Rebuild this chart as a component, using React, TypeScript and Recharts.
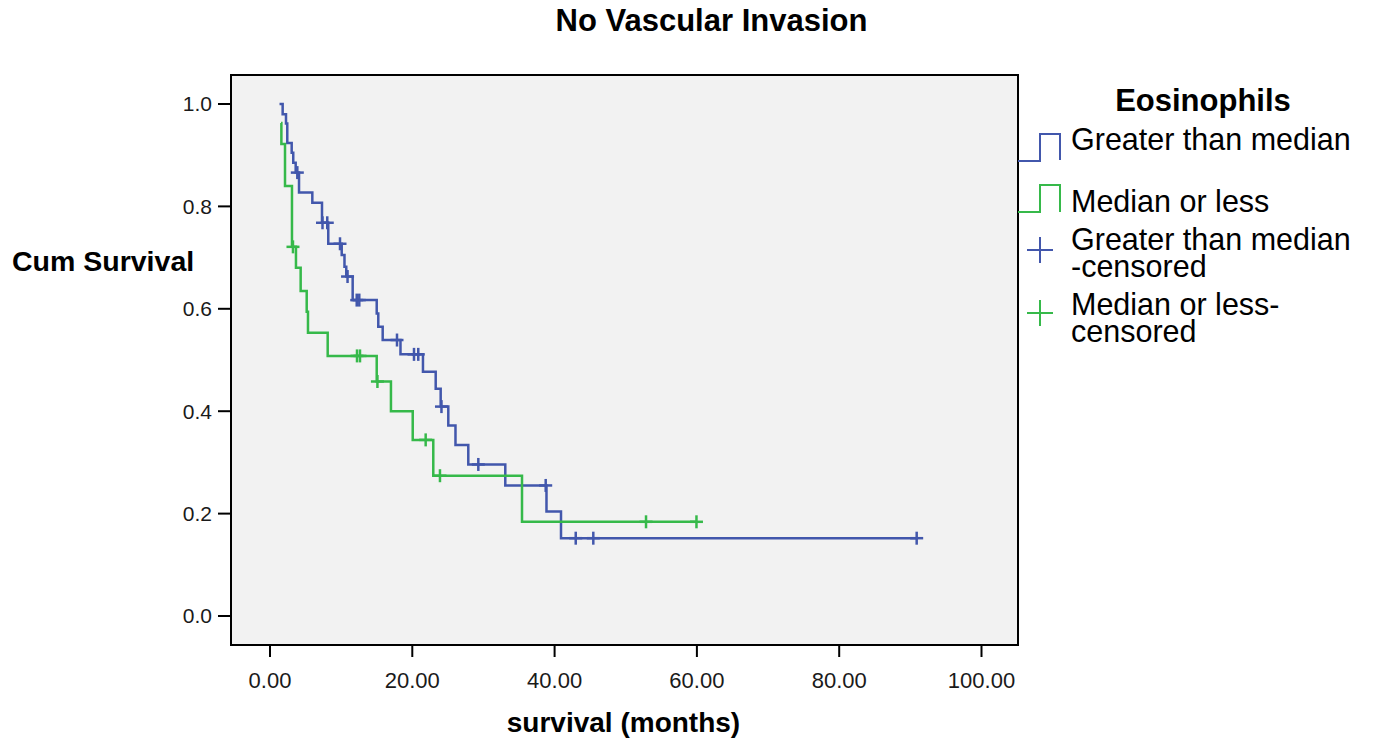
import React from "react";
import {
  ComposedChart,
  Line,
  Scatter,
  XAxis,
  YAxis,
  ReferenceArea,
} from "recharts";

// Kaplan-Meier steps (months, cumulative survival)
const aboveTimes = [1.34, 1.78, 2.25, 2.43, 3.05, 3.27, 3.61, 4.08, 5.95, 7.31, 8.19, 10.08, 10.47, 10.72, 11.62, 15.0, 15.22, 15.84, 18.34, 21.5, 23.29, 23.99, 25.06, 26.07, 27.87, 33.07, 38.86, 40.9];
const aboveSurvival = [1.0, 0.98, 0.962, 0.924, 0.905, 0.885, 0.866, 0.827, 0.807, 0.768, 0.727, 0.705, 0.682, 0.663, 0.617, 0.591, 0.565, 0.539, 0.511, 0.477, 0.444, 0.409, 0.372, 0.334, 0.296, 0.255, 0.204, 0.152];
const aboveCensored = [3.84, 7.38, 8.05, 9.84, 10.9, 12.19, 12.55, 17.85, 20.24, 20.84, 24.1, 29.28, 38.75, 42.97, 45.44, 90.89];

const belowTimes = [1.55, 1.6, 2.11, 3.09, 3.65, 4.31, 5.16, 5.34, 8.11, 15.0, 17.0, 20.06, 22.95, 35.42];
const belowSurvival = [0.963, 0.922, 0.84, 0.721, 0.68, 0.635, 0.594, 0.553, 0.508, 0.458, 0.4, 0.344, 0.274, 0.184];
const belowCensored = [3.23, 12.23, 12.65, 15.1, 21.88, 23.89, 52.85, 59.94];

const xTicks = [0, 20, 40, 60, 80, 100];
const yTicks = [0, 0.2, 0.4, 0.6, 0.8, 1.0];

const BLUE = "#4257ac";
const GREEN = "#36b94a";
const FONT = "'Liberation Sans', Arial, Helvetica, sans-serif";

const X_DOMAIN: [number, number] = [-5.48, 105.13];
const Y_DOMAIN: [number, number] = [-0.0566, 1.0566];

function levelAt(times: number[], values: number[], t: number) {
  let v = values[0];
  for (let i = 0; i < times.length; i++) {
    if (times[i] <= t) v = values[i];
  }
  return v;
}

function stepSeries(times: number[], values: number[], censored: number[]) {
  const pts = times.map((t, i) => ({ t, v: values[i] }));
  const last = censored[censored.length - 1];
  if (last > times[times.length - 1]) {
    pts.push({ t: last, v: values[values.length - 1] });
  }
  return pts;
}

function censorSeries(times: number[], values: number[], censored: number[]) {
  return censored.map((t) => ({ t, v: levelAt(times, values, t) }));
}

const aboveLine = stepSeries(aboveTimes, aboveSurvival, aboveCensored);
const belowLine = stepSeries(belowTimes, belowSurvival, belowCensored);
const aboveMarks = censorSeries(aboveTimes, aboveSurvival, aboveCensored);
const belowMarks = censorSeries(belowTimes, belowSurvival, belowCensored);

function plusShape(color: string) {
  return (props: any) => {
    const { cx, cy } = props;
    return (
      <g stroke={color} strokeWidth={2.5}>
        <line x1={cx - 6.5} x2={cx + 6.5} y1={cy} y2={cy} />
        <line x1={cx} x2={cx} y1={cy - 6.5} y2={cy + 6.5} />
      </g>
    );
  };
}

function Overlay() {
  return (
    <svg
      width={1376}
      height={745}
      style={{ position: "absolute", left: 0, top: 0, pointerEvents: "none" }}
      fontFamily={FONT}
    >
      <text x={711.5} y={31} textAnchor="middle" fontSize={31} fontWeight="bold" fill="#000">
        No Vascular Invasion
      </text>
      <text x={12} y={271} fontSize={28.5} fontWeight="bold" fill="#000">
        Cum Survival
      </text>
      <text x={623.5} y={732} textAnchor="middle" fontSize={28} fontWeight="bold" fill="#000">
        survival (months)
      </text>

      <text x={1203} y={111} textAnchor="middle" fontSize={31} fontWeight="bold" fill="#000">
        Eosinophils
      </text>
      <path d="M1018,161 H1040 V134 H1060 V160" fill="none" stroke={BLUE} strokeWidth={2} />
      <text x={1071} y={150} fontSize={30.5} fill="#000">Greater than median</text>
      <path d="M1018,212 H1040 V185 H1060 V212" fill="none" stroke={GREEN} strokeWidth={2} />
      <text x={1071} y={212} fontSize={30.5} fill="#000">Median or less</text>
      <g stroke={BLUE} strokeWidth={2}>
        <line x1={1027} x2={1053} y1={250} y2={250} />
        <line x1={1040} x2={1040} y1={237} y2={263} />
      </g>
      <text x={1071} y={250} fontSize={30.5} fill="#000">Greater than median</text>
      <text x={1071} y={277} fontSize={30.5} fill="#000">-censored</text>
      <g stroke={GREEN} strokeWidth={2}>
        <line x1={1027} x2={1053} y1={313} y2={313} />
        <line x1={1040} x2={1040} y1={300} y2={326} />
      </g>
      <text x={1071} y={315} fontSize={30.5} fill="#000">Median or less-</text>
      <text x={1071} y={342} fontSize={30.5} fill="#000">censored</text>
    </svg>
  );
}

export default function App() {
  return (
    <div style={{ position: "absolute", left: 0, top: 0, width: 1376, height: 745, background: "#fff" }}>
      <ComposedChart
        width={1376}
        height={745}
        margin={{ top: 75, right: 358, bottom: 50, left: 171 }}
      >
        <XAxis
          type="number"
          dataKey="t"
          domain={X_DOMAIN}
          ticks={xTicks}
          allowDataOverflow
          axisLine={false}
          tickLine={{ stroke: "#000", strokeWidth: 2 }}
          tickSize={12}
          tickMargin={15}
          height={50}
          tick={{ fill: "#1a1a1a", fontSize: 22, fontFamily: FONT }}
          tickFormatter={(v: number) => v.toFixed(2)}
        />
        <YAxis
          type="number"
          dataKey="v"
          domain={Y_DOMAIN}
          ticks={yTicks}
          allowDataOverflow
          axisLine={false}
          tickLine={{ stroke: "#000", strokeWidth: 2 }}
          tickSize={13}
          tickMargin={6}
          width={60}
          tick={{ fill: "#1a1a1a", fontSize: 21, fontFamily: FONT }}
          tickFormatter={(v: number) => v.toFixed(1)}
        />
        <ReferenceArea
          x1={X_DOMAIN[0]}
          x2={X_DOMAIN[1]}
          y1={Y_DOMAIN[0]}
          y2={Y_DOMAIN[1]}
          fill="#f2f2f2"
          fillOpacity={1}
          stroke="#000"
          strokeWidth={2}
        />
        <Line
          data={aboveLine}
          dataKey="v"
          type="stepAfter"
          stroke={BLUE}
          strokeWidth={2.5}
          dot={false}
          activeDot={false}
          isAnimationActive={false}
        />
        <Line
          data={belowLine}
          dataKey="v"
          type="stepAfter"
          stroke={GREEN}
          strokeWidth={2.5}
          dot={false}
          activeDot={false}
          isAnimationActive={false}
        />
        <Scatter
          data={aboveMarks}
          dataKey="v"
          shape={plusShape(BLUE)}
          isAnimationActive={false}
        />
        <Scatter
          data={belowMarks}
          dataKey="v"
          shape={plusShape(GREEN)}
          isAnimationActive={false}
        />
      </ComposedChart>
      <Overlay />
    </div>
  );
}
